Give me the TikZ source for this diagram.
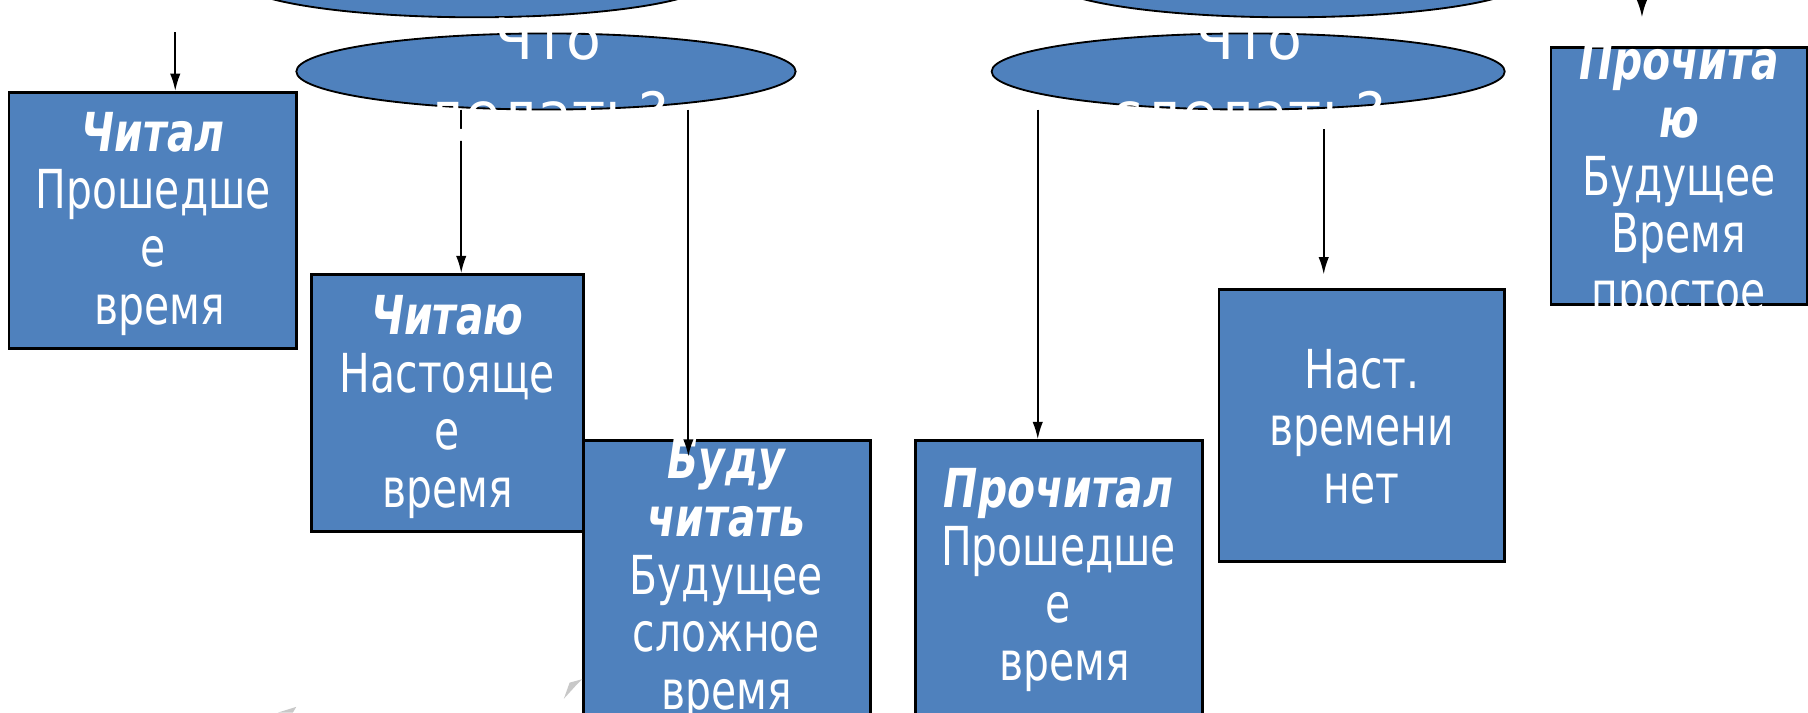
\documentclass[tikz,border=0pt]{standalone}
\usepackage{fontspec}
\setmainfont{DejaVu Sans}
\newfontfamily\boxfont{DejaVu Sans}[FakeStretch=0.76]
\usetikzlibrary{shapes.geometric,arrows.meta}
\definecolor{boxblue}{HTML}{4F81BD}
\definecolor{shardgray}{HTML}{C8C8C8}
\begin{document}
\begin{tikzpicture}[x=0.5pt,y=-0.5pt,
  box/.style={draw=black, line width=1.1pt, fill=boxblue, rectangle, inner sep=0pt},
  oval/.style={draw=black, line width=0.8pt, fill=boxblue, ellipse, inner sep=0pt, minimum height=33pt},
  btxt/.style={text=white, align=center, font=\boxfont\fontsize{23.3}{25}\selectfont, inner sep=0pt},
  otxt/.style={text=white, align=center, font=\fontsize{24.7}{32}\selectfont, inner sep=0pt},
  arr/.style={draw=black, line width=0.8pt, -{Latex[length=7.5pt,width=4.5pt]}},
  shard/.style={fill=shardgray, draw=none}
]
\useasboundingbox (0,0) rectangle (1568,618);

% ovals
\node[oval, minimum width=206pt] (e0) at (412,-18) {};
\node[oval, minimum width=208pt] (e00) at (1117,-18) {};
\node[oval, minimum width=216.5pt] (e1) at (473.5,62) {};
\node[oval, minimum width=222.5pt] (e2) at (1082.5,62) {};

% boxes
\node[box, minimum width=124.5pt, minimum height=111pt] (b1) at (132.5,191) {};
\node[box, minimum width=118pt, minimum height=111.5pt] (b2) at (388,349.5) {};
\node[box, minimum width=124.5pt, minimum height=119pt] (b3) at (630.5,501) {};
\node[box, minimum width=124.5pt, minimum height=119pt] (b4) at (918.5,501) {};
\node[box, minimum width=124pt, minimum height=118pt] (b5) at (1181,369) {};
\node[box, minimum width=111pt, minimum height=111.5pt] (b6) at (1456,152.5) {};

% box texts
\node[btxt] (t1) at (133,194) {{\bfseries\itshape Читал}\\Прошедше\\е\\\mbox{ }время};
\node[btxt] (t2) at (388,353) {{\bfseries\itshape Читаю}\\Настояще\\е\\время};
\node[btxt] (t3) at (630,503) {{\bfseries\itshape Буду}\\{\bfseries\itshape читать}\\Будущее\\сложное\\время};
\node[btxt] (t4) at (918,503) {{\bfseries\itshape Прочитал}\\Прошедше\\е\\\mbox{ }время};
\node[btxt] (t5) at (1181,370) {Наст.\\времени\\нет};
\node[btxt] (t6) at (1456,157) {{\bfseries\itshape Прочита}\\{\bfseries\itshape ю}\\Будущее\\Время\\простое};

% connectors
\coordinate (s1) at (152,28);
\coordinate (s2) at (400,95);
\coordinate (s3) at (597,95);
\coordinate (f3) at (597,396);
\coordinate (s4) at (900,95);
\coordinate (s5) at (1148,112);
\coordinate (f5) at (1148,238);
\coordinate (s6) at (1424,-5);
\coordinate (f6) at (1424,15);
\draw[arr] (s1) -- (s1 |- b1.north);
\draw[arr] (s2) -- (s2 |- b2.north);
\draw[arr] (s3) -- (f3);
\draw[arr] (s4) -- (s4 |- b4.north);
\draw[arr] (s5) -- (f5);
\draw[arr] (s6) -- (f6);

% oval texts (white, overflowing)
\node[otxt] (q1) at (475,69) {Что\\делать?};
\node[otxt] (q2) at (1083,69) {Что\\сделать?};

% faint grey marks
\fill[shard] (505,589) -- (494,592) -- (489,606) -- (499,595) -- cycle;
\fill[shard] (241,618) -- (257,613) -- (254,618) -- cycle;
\end{tikzpicture}
\end{document}
